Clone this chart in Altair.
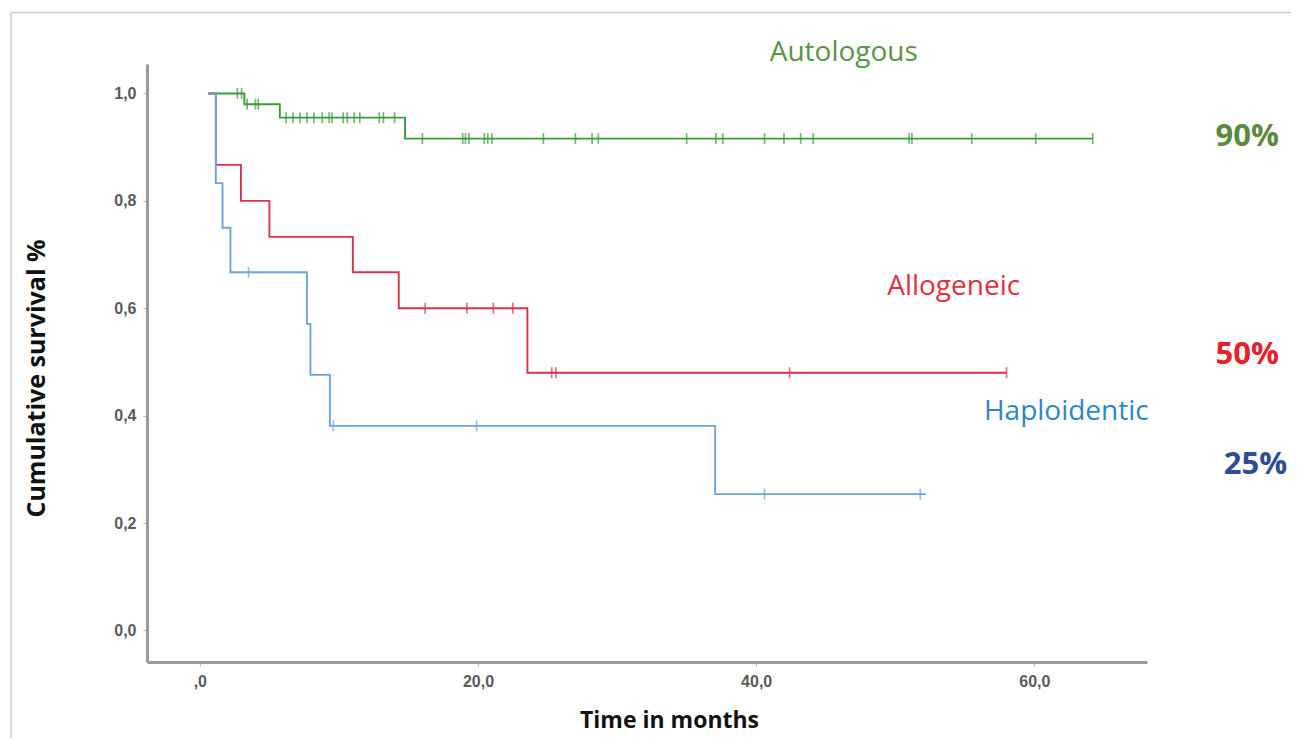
import altair as alt
import pandas as pd

# ---- data ----
groups = ["Autologous", "Allogeneic", "Haploidentic"]
line_colors = ["#3c9a3c", "#d8324e", "#6ea3db"]

auto_t = [0.6, 3.2, 5.75, 14.75, 64.2]
auto_s = [1.0, 0.98, 0.955, 0.916, 0.916]
auto_cens = [2.7, 3.0, 3.4, 4.0, 4.2, 6.2, 6.7, 7.2, 7.7, 8.2, 8.8, 9.3, 9.5, 10.3,
             10.6, 11.1, 11.5, 12.9, 13.2, 14.0, 16.0, 18.9, 19.1, 19.35, 20.45,
             20.7, 21.0, 24.7, 27.0, 28.2, 28.65, 35.0, 37.1, 37.6, 40.6, 42.0,
             43.2, 44.1, 51.0, 51.2, 55.5, 60.1, 64.2]

allo_t = [0.6, 1.15, 2.95, 5.0, 11.0, 14.3, 23.55, 58.0]
allo_s = [1.0, 0.867, 0.8, 0.733, 0.667, 0.6, 0.48, 0.48]
allo_cens = [16.2, 19.2, 21.1, 22.5, 25.3, 25.6, 42.4, 58.0]

haplo_t = [0.6, 1.15, 1.63, 2.2, 7.7, 7.95, 9.35, 37.05, 52.2]
haplo_s = [1.0, 0.833, 0.75, 0.667, 0.571, 0.476, 0.381, 0.254, 0.254]
haplo_cens = [3.5, 9.6, 19.9, 40.6, 51.8]

label_text = ["Autologous", "Allogeneic", "Haploidentic"]
label_t = [46.3, 54.2, 62.3]
label_s = [1.075, 0.64, 0.407]
label_color = ["#5a9444", "#e0323c", "#2f86c6"]

pct_text = ["90%", "50%", "25%"]
pct_t = [75.3, 75.3, 75.9]
pct_s = [0.919, 0.513, 0.308]
pct_color = ["#5b8a3c", "#e62129", "#2e4d95"]

x_ticks = [0, 20, 40, 60]
y_ticks = [0.0, 0.2, 0.4, 0.6, 0.8, 1.0]

# ---- tables ----
def step_value(ts, ss, t):
    v = ss[0]
    for ti, si in zip(ts, ss):
        if ti <= t:
            v = si
    return v

series = {"Autologous": (auto_t, auto_s, auto_cens),
          "Allogeneic": (allo_t, allo_s, allo_cens),
          "Haploidentic": (haplo_t, haplo_s, haplo_cens)}

rows, crow = [], []
for g, (ts, ss, cs_) in series.items():
    for i, (t, s) in enumerate(zip(ts, ss)):
        rows.append({"group": g, "t": t, "s": s, "i": i})
    for c in cs_:
        crow.append({"group": g, "t": c, "s": step_value(ts, ss, c)})
lines_df = pd.DataFrame(rows)
cens_df = pd.DataFrame(crow)
lab_df = pd.DataFrame({"text": label_text, "t": label_t, "s": label_s, "c": label_color})
pct_df = pd.DataFrame({"text": pct_text, "t": pct_t, "s": pct_s, "c": pct_color})

xs = alt.Scale(domain=[-3.8, 68.1], nice=False, zero=False)
ys = alt.Scale(domain=[-0.0587, 1.0549], nice=False, zero=False)
cs = alt.Scale(domain=groups, range=line_colors)

x_axis = alt.Axis(values=x_ticks, grid=False, title="Time in months",
                  labelExpr="datum.value == 0 ? ',0' : replace(format(datum.value, '.1f'), '.', ',')",
                  titleX=522, titleY=58, titleAnchor="start", titleAlign="center",
                  titleBaseline="middle")
y_axis = alt.Axis(values=y_ticks, grid=False, title="Cumulative survival %",
                  labelExpr="replace(format(datum.value, '.1f'), '.', ',')",
                  titleX=-111, titleY=314, titleAngle=270, titleAlign="center",
                  titleBaseline="middle", titleFontSize=25)

base_lines = alt.Chart(lines_df).mark_line(interpolate="step-after", strokeWidth=1.9).encode(
    x=alt.X("t:Q", scale=xs, axis=x_axis),
    y=alt.Y("s:Q", scale=ys, axis=y_axis),
    color=alt.Color("group:N", scale=cs, legend=None),
    detail="group:N",
    order="i:Q",
)

cens = alt.Chart(cens_df).mark_tick(orient="vertical", size=11, thickness=1.7).encode(
    x=alt.X("t:Q", scale=xs),
    y=alt.Y("s:Q", scale=ys),
    color=alt.Color("group:N", scale=cs, legend=None),
)

labels = alt.Chart(lab_df).mark_text(font="Open Sans", fontSize=28, align="center",
                                     baseline="middle").encode(
    x=alt.X("t:Q", scale=xs), y=alt.Y("s:Q", scale=ys),
    text="text:N", color=alt.Color("c:N", scale=None))

pcts = alt.Chart(pct_df).mark_text(font="Open Sans", fontSize=31, fontWeight="bold",
                                   align="center", baseline="middle").encode(
    x=alt.X("t:Q", scale=xs), y=alt.Y("s:Q", scale=ys),
    text="text:N", color=alt.Color("c:N", scale=None))

frame_top = alt.Chart(pd.DataFrame({"k": [0]})).mark_rule(color="#cccccc", strokeWidth=1.5).encode(
    x=alt.value(-136), x2=alt.value(1144), y=alt.value(-51.5))
frame_left = alt.Chart(pd.DataFrame({"k": [0]})).mark_rule(color="#cccccc", strokeWidth=1.5).encode(
    x=alt.value(-136), y=alt.value(-51.5), y2=alt.value(674))

chart = alt.layer(frame_top, frame_left, base_lines, cens, labels, pcts).properties(
    width=1000, height=598,
    autosize=alt.AutoSizeParams(type="none"),
    padding={"left": 139, "top": 56, "right": 144, "bottom": 76},
).configure_view(stroke=None).configure_axis(
    domainColor="#9a9a9a", domainWidth=3, tickColor="#bbbbbb", tickSize=4, tickWidth=1,
    labelFont="Liberation Sans", labelFontSize=16, labelFontWeight="bold", labelColor="#5a5a5a",
    labelPadding=7,
    titleFont="Open Sans", titleFontSize=23, titleFontWeight="bold", titleColor="#111111",
).resolve_scale(color="independent")

chart.save("out.html", embed_options={"renderer": "svg", "actions": False})
